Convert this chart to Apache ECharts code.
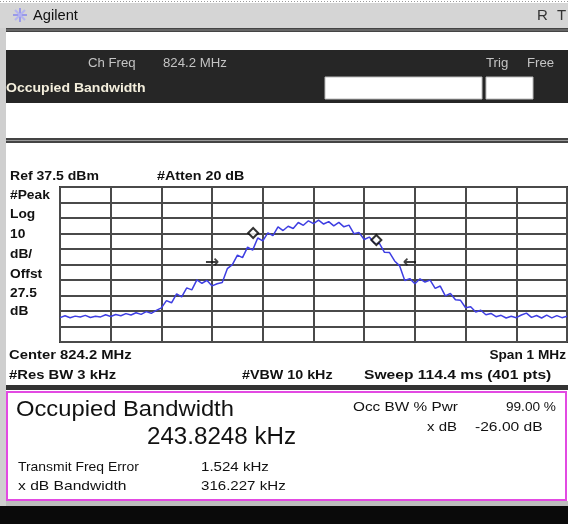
<!DOCTYPE html>
<html>
<head>
<meta charset="utf-8">
<script src="https://cdn.jsdelivr.net/npm/echarts@6/dist/echarts.min.js"></script>
<style>
  html, body { margin: 0; padding: 0; background: #fff; }
  #main { width: 568px; height: 524px; }
</style>
</head>
<body>
<div id="main"></div>
<script>
// analyzer settings
var refLevel = 37.5;      // dBm, top of screen
var dbPerDiv = 10;
var spanKHz = 1000;
var stepKHz = 10;         // trace read back every 10 kHz

// trace, dBm, from -500 kHz to +500 kHz
var trace = [
  -46.8, -45.6, -46.9, -45.8, -46.4, -45.3, -46.7, -45.9, -46.3, -44.9,
  -46.0, -44.8, -45.6, -44.2, -45.1, -43.6, -44.7, -42.9, -44.0, -42.1,
  -40.5, -35.8, -37.2, -31.5, -33.4, -27.6, -28.9, -22.4, -24.6, -22.8,
  -26.3, -24.9, -24.1, -15.2, -12.6, -6.4, -8.1, -1.3, -3.2, 4.6,
  2.8, 7.9, 6.1, 11.8, 9.4, 12.2, 10.7, 14.6, 12.8, 15.7,
  13.9, 16.1, 13.6, 15.2, 12.4, 14.7, 11.8, 12.9, 7.3, 8.1,
  3.6, 5.2, 1.4, 1.1, -4.6, -4.8, -10.2, -13.4, -22.8, -21.6,
  -24.9, -21.7, -23.8, -22.6, -27.9, -26.4, -32.7, -31.2, -35.3, -35.6,
  -40.4, -39.8, -43.1, -42.0, -44.9, -44.1, -46.2, -45.3, -47.0, -45.9,
  -46.8, -45.1, -43.9, -46.6, -45.4, -47.0, -45.2, -46.9, -45.5, -46.8,
  -45.9
];

// OBW markers (diamonds) and x dB arrows: offset kHz, dBm
var markerFreq = [-119, 124];
var markerLevel = [7.8, 3.3];
var arrowFreq = [-200, 190];
var arrowLevel = [-11, -11];
var arrowText = ['→', '←'];

var tracePts = trace.map(function (v, i) {
  return [-spanKHz / 2 + i * stepKHz, v - refLevel];
});
var markerPts = markerFreq.map(function (f, i) { return [f, markerLevel[i] - refLevel]; });
var arrowPts = arrowFreq.map(function (f, i) { return [f, arrowLevel[i] - refLevel]; });

var F = 'Arial, "Liberation Sans", sans-serif';
// the screen capture is a little stretched sideways, so text gets a scaleX
function txt(x, y, s, size, opt) {
  opt = opt || {};
  return {
    type: 'text', x: x, y: y, z: 10, scaleX: opt.sx || 1,
    style: {
      text: s, fill: opt.color || '#111',
      font: (opt.bold ? 'bold ' : '') + size + 'px ' + F,
      textAlign: opt.align || 'left', textVerticalAlign: 'middle'
    }
  };
}
function lbl(x, y, s, opt) {
  opt = opt || {};
  opt.bold = true;
  opt.sx = opt.sx || 1.14;
  return txt(x, y, s, 13, opt);
}
function small(x, y, s, opt) {
  opt = opt || {};
  opt.sx = opt.sx || 1.16;
  return txt(x, y, s, 13, opt);
}
function box(x, y, w, h, fill, stroke, lw) {
  return {
    type: 'rect', shape: { x: x, y: y, width: w, height: h }, z: 1,
    style: { fill: fill, stroke: stroke || null, lineWidth: lw || 0 }
  };
}
function line(x1, y1, x2, y2, color, w, dash) {
  return {
    type: 'line', z: 2, shape: { x1: x1, y1: y1, x2: x2, y2: y2 },
    style: { stroke: color, lineWidth: w, lineDash: dash || null }
  };
}

var chrome = [
  line(0, 1.5, 568, 1.5, '#999', 1, [1, 2]),
  box(0, 3, 568, 25, '#d5d5d5'),
  // star logo
  line(13, 15, 27, 15, '#9a9ae8', 2),
  line(20, 8, 20, 22, '#9a9ae8', 2),
  line(15, 10, 25, 20, '#b4b4f0', 2),
  line(25, 10, 15, 20, '#b4b4f0', 2),
  txt(33, 16, 'Agilent', 14, { sx: 1.05 }),
  txt(537, 16, 'R', 15, { color: '#333' }),
  txt(557, 16, 'T', 15, { color: '#333' }),
  box(0, 28, 6, 478, '#cfcfcf'),
  box(6, 28, 562, 4, '#444'),
  line(6, 30, 568, 30, '#888', 1),
  box(6, 50, 562, 53, '#262626'),
  txt(88, 64, 'Ch Freq', 12, { color: '#c4c4c4', sx: 1.1 }),
  txt(163, 64, '824.2 MHz', 12, { color: '#c4c4c4', sx: 1.1 }),
  txt(486, 64, 'Trig', 12, { color: '#c4c4c4', sx: 1.1 }),
  txt(527, 64, 'Free', 12, { color: '#c4c4c4', sx: 1.1 }),
  txt(6, 88, 'Occupied Bandwidth', 13, { bold: true, color: '#f3eedc', sx: 1.08 }),
  box(325, 77, 157, 22, '#fff', '#bbb', 1),
  box(486, 77, 47, 22, '#fff', '#bbb', 1),
  box(6, 138, 562, 5, '#444'),
  line(6, 140.5, 568, 140.5, '#999', 1),
  // chart annotations
  lbl(10, 176, 'Ref 37.5 dBm', { sx: 1.08 }),
  lbl(157, 176, '#Atten 20 dB', { sx: 1.1 }),
  lbl(10, 195, '#Peak', { sx: 1.06 }),
  lbl(10, 214, 'Log', { sx: 1.06 }),
  lbl(10, 234, '10', { sx: 1.06 }),
  lbl(10, 254, 'dB/', { sx: 1.06 }),
  lbl(10, 274, 'Offst', { sx: 1.06 }),
  lbl(10, 293, '27.5', { sx: 1.06 }),
  lbl(10, 311, 'dB', { sx: 1.06 }),
  lbl(9, 355, 'Center 824.2 MHz'),
  lbl(566, 355, 'Span 1 MHz', { align: 'right', sx: 1.05 }),
  lbl(9, 375, '#Res BW 3 kHz'),
  lbl(242, 375, '#VBW 10 kHz', { sx: 1.1 }),
  lbl(364, 375, 'Sweep 114.4 ms (401 pts)', { sx: 1.2 }),
  box(6, 385, 562, 5, '#333'),
  // result panel
  box(7, 392, 559, 108, '#fff', '#e24ae2', 2),
  txt(16, 410, 'Occupied Bandwidth', 22, { sx: 1.08 }),
  txt(147, 438, '243.8248 kHz', 23, { sx: 1.05 }),
  small(353, 407, 'Occ BW % Pwr', { sx: 1.18 }),
  small(556, 407, '99.00 %', { align: 'right', sx: 1.05 }),
  small(457, 427, 'x dB', { align: 'right', sx: 1.15 }),
  small(475, 427, '-26.00 dB', { sx: 1.2 }),
  small(18, 467, 'Transmit Freq Error', { sx: 1.07 }),
  small(201, 467, '1.524 kHz', { sx: 1.16 }),
  small(18, 486, 'x dB Bandwidth', { sx: 1.2 }),
  small(201, 486, '316.227 kHz', { sx: 1.16 }),
  box(6, 501, 562, 5, '#bdbdbd'),
  box(0, 506, 568, 18, '#0a0a0a')
];

var chart = echarts.init(document.getElementById('main'));
chart.setOption({
  animation: false,
  backgroundColor: '#fff',
  grid: {
    left: 60, right: 1, top: 187, bottom: 182,
    show: true, borderColor: '#333', borderWidth: 2, backgroundColor: 'transparent'
  },
  xAxis: {
    type: 'value', min: -500, max: 500, interval: 100,
    axisLine: { show: false }, axisTick: { show: false }, axisLabel: { show: false },
    splitLine: { show: true, lineStyle: { color: '#4a4a4a', width: 2 } }
  },
  yAxis: {
    type: 'value', min: -100, max: 0, interval: 10,
    axisLine: { show: false }, axisTick: { show: false }, axisLabel: { show: false },
    splitLine: { show: true, lineStyle: { color: '#4a4a4a', width: 2 } }
  },
  series: [
    {
      type: 'line', data: tracePts, symbol: 'none', z: 5,
      lineStyle: { color: '#3e3ee2', width: 1.5 }
    },
    {
      type: 'scatter', data: markerPts, symbol: 'diamond', symbolSize: 10, z: 6,
      itemStyle: { color: '#fff', borderColor: '#000', borderWidth: 2 }
    },
    {
      type: 'scatter', data: arrowPts, symbolSize: 0, z: 6,
      label: {
        show: true, position: 'inside', color: '#111', fontSize: 17,
        fontWeight: 'bold', fontFamily: 'DejaVu Sans',
        formatter: function (p) { return arrowText[p.dataIndex]; }
      }
    }
  ],
  graphic: chrome
});
</script>
</body>
</html>
